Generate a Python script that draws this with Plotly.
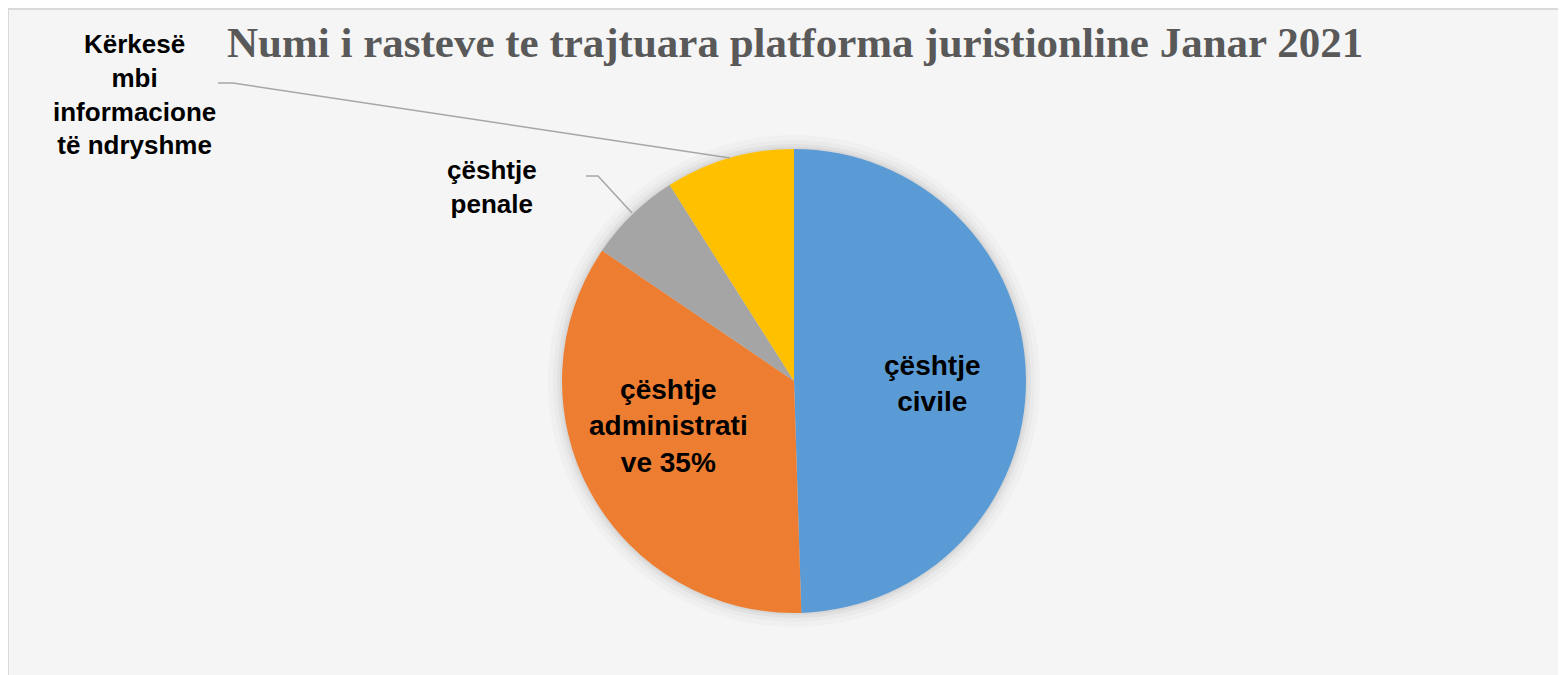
import plotly.graph_objects as go

W, H = 1566, 675
OFF = 8  # page body margin

categories = ["çështje civile", "çështje administrative", "çështje penale",
              "Kërkesë mbi informacione të ndryshme"]
values = [49.5, 35.0, 6.5, 9.0]
colors = ["#5B9BD5", "#ED7D31", "#A5A5A5", "#FFC000"]
title_text = "Numi i rasteve te trajtuara platforma juristionline Janar 2021"

label_civile = "çështje<br>civile"
label_admin = "çështje<br>administrati<br>ve %d%%"
label_penale = "çështje<br>penale"
label_kerkese = "Kërkesë<br>mbi<br>informacione<br>të ndryshme"

def px(x):
    return (x - OFF) / W

def py(y):
    return 1 - (y - OFF) / H

cx, cy, r = 794, 381, 232
total = sum(values)
pct_admin = round(values[1] / total * 100)

fig = go.Figure()
fig.add_trace(go.Pie(
    labels=categories, values=values, sort=False, direction="clockwise",
    rotation=0, marker=dict(colors=colors, line=dict(width=0)),
    textinfo="none", hoverinfo="label+percent", showlegend=False,
    domain=dict(x=[px(cx - r), px(cx + r)], y=[py(cy + r), py(cy - r)]),
))

shapes = [
    dict(type="rect", xref="paper", yref="paper", x0=px(8), x1=px(1580), y0=py(690), y1=py(9),
         fillcolor="#f5f5f5", line=dict(color="#d9d9d9", width=2), layer="below"),
]
# soft shadow around the pie
for k, a in [(14, 0.02), (9, 0.025), (5, 0.035), (2, 0.045)]:
    shapes.append(dict(type="circle", xref="paper", yref="paper",
                       x0=px(cx - r - k), x1=px(cx + r + k), y0=py(cy + r + k), y1=py(cy - r - k),
                       fillcolor="rgba(0,0,0,%s)" % a, line=dict(width=0), layer="below"))
# leader lines
shapes.append(dict(type="path", xref="paper", yref="paper",
                   path="M %f,%f L %f,%f L %f,%f" % (px(218), py(83), px(233), py(83), px(730), py(158)),
                   line=dict(color="#a6a6a6", width=1.5)))
shapes.append(dict(type="path", xref="paper", yref="paper",
                   path="M %f,%f L %f,%f L %f,%f" % (px(586), py(176), px(598), py(176), px(632), py(213)),
                   line=dict(color="#a6a6a6", width=1.5)))

bold = "Liberation Sans"
annotations = [
    dict(text="<b>%s</b>" % title_text, x=px(795), y=py(42), xref="paper", yref="paper",
         showarrow=False, font=dict(family="Liberation Serif", size=43, color="#595959"),
         xanchor="center", yanchor="middle"),
    dict(text="<b>%s</b>" % label_civile, x=px(932), y=py(383), xref="paper", yref="paper",
         showarrow=False, font=dict(family=bold, size=28, color="#000000"),
         xanchor="center", yanchor="middle"),
    dict(text="<b>%s</b>" % (label_admin % pct_admin), x=px(668), y=py(426), xref="paper", yref="paper",
         showarrow=False, font=dict(family=bold, size=28, color="#000000"),
         xanchor="center", yanchor="middle"),
    dict(text="<b>%s</b>" % label_penale, x=px(492), y=py(187), xref="paper", yref="paper",
         showarrow=False, font=dict(family=bold, size=26, color="#000000"),
         xanchor="center", yanchor="middle"),
    dict(text="<b>%s</b>" % label_kerkese, x=px(134), y=py(94), xref="paper", yref="paper",
         showarrow=False, font=dict(family=bold, size=26, color="#000000"),
         xanchor="center", yanchor="middle"),
]

fig.update_layout(
    width=W, height=H, margin=dict(l=0, r=0, t=0, b=0),
    paper_bgcolor="#ffffff", plot_bgcolor="#ffffff",
    shapes=shapes, annotations=annotations,
)
fig.write_html("out.html")
